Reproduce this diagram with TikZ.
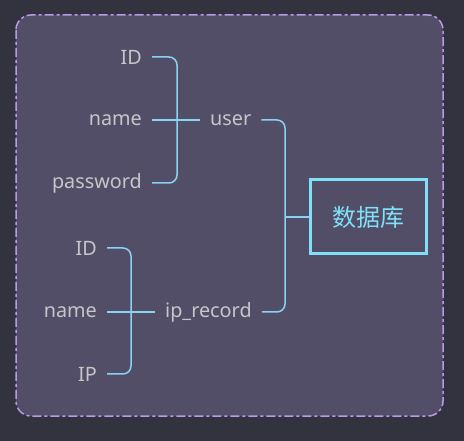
\documentclass[tikz,border=0pt]{standalone}
\usepackage{fontspec}
\setmainfont{Noto Sans}
\newfontfamily\cjk{Noto Sans CJK SC}
\definecolor{bgc}{HTML}{32333F}
\definecolor{panel}{HTML}{524E67}
\definecolor{purp}{HTML}{BC98E8}
\definecolor{lineb}{HTML}{8AD3F0}
\definecolor{txt}{HTML}{C6C6C8}
\definecolor{cyanb}{HTML}{80E0F8}
\tikzset{
  lbl/.style={text=txt, font=\fontsize{19.8}{21}\selectfont, inner xsep=10pt, inner ysep=2pt},
  conn/.style={draw=lineb, line width=1.5pt, rounded corners=8pt},
  dbbox/.style={draw=cyanb, line width=3pt, minimum width=116pt, minimum height=74pt, text=cyanb, font=\cjk\fontsize{24}{25}\selectfont}
}
\begin{document}
\begin{tikzpicture}[x=1pt,y=-1pt]
\useasboundingbox (0,0) rectangle (464,441);
\fill[bgc] (0,0) rectangle (464,441);
\draw[fill=panel, draw=purp, line width=1.5pt, rounded corners=15pt, dash pattern=on 9pt off 3pt on 3pt off 3pt] (16,15) rectangle (443,416);
% group 1
\node[lbl, anchor=east] (id1) at (152,57) {ID};
\node[lbl, anchor=east] (nm1) at (152,120) {name};
\node[lbl, anchor=east] (pw1) at (152,183) {password};
\node[lbl, anchor=west] (user) at (200,120) {user};
\coordinate (b1) at (177,0);
\draw[conn] (id1.east) -- (id1.east -| b1) -- (pw1.east -| b1) -- (pw1.east);
\draw[conn] (nm1.east) -- (user.west);
% group 2
\node[lbl, anchor=east] (id2) at (107,248) {ID};
\node[lbl, anchor=east] (nm2) at (107,312) {name};
\node[lbl, anchor=east] (ip2) at (107,374) {IP};
\node[lbl, anchor=west] (iprec) at (155,312) {ip\_record};
\coordinate (b2) at (131,0);
\draw[conn] (id2.east) -- (id2.east -| b2) -- (ip2.east -| b2) -- (ip2.east);
\draw[conn] (nm2.east) -- (iprec.west);
% db
\node[dbbox] (db) at (368,217) {数据库};
\coordinate (b3) at (285,0);
\draw[conn] (user.east) -- (user.east -| b3) -- (iprec.east -| b3) -- (iprec.east);
\draw[conn] (db.west -| b3) -- (db.west);
\end{tikzpicture}
\end{document}
